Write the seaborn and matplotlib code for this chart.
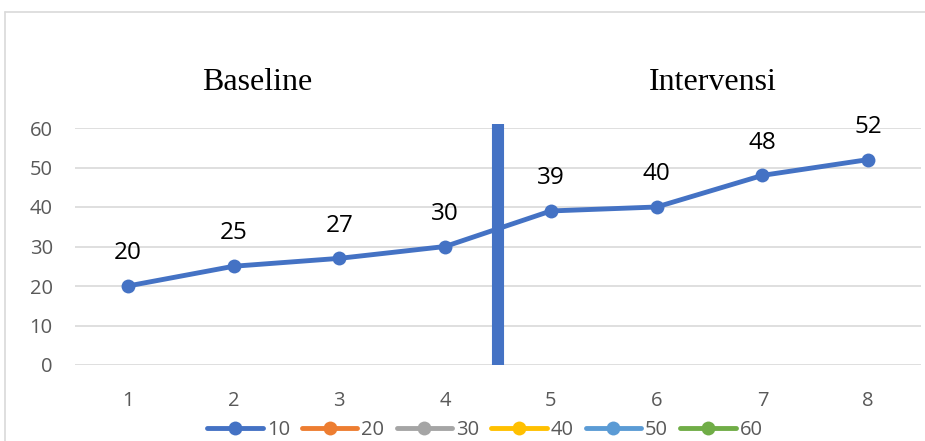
import matplotlib
matplotlib.use("Agg")
import matplotlib.pyplot as plt
from matplotlib.lines import Line2D
import seaborn as sns
import pandas as pd

sessions = [1, 2, 3, 4, 5, 6, 7, 8]
scores = [20, 25, 27, 30, 39, 40, 48, 52]
series_names = ["10", "20", "30", "40", "50", "60"]
series_colors = ["#4472C4", "#ED7D31", "#A5A5A5", "#FFC000", "#5B9BD5", "#70AD47"]
y_ticks = [0, 10, 20, 30, 40, 50, 60]
phase_labels = ["Baseline", "Intervensi"]
phase_split = 4.5
split_top = 61

sns.set_theme(style="white")
plt.rcParams["font.family"] = ["Open Sans", "DejaVu Sans"]

fig = plt.figure(figsize=(9.25, 4.41), dpi=100)
ax = fig.add_axes([75 / 925, 1 - 365 / 441, (921 - 75) / 925, (365 - 128) / 441])

df = pd.DataFrame({"session": sessions, "score": scores})
sns.lineplot(data=df, x="session", y="score", ax=ax, color=series_colors[0],
             linewidth=3.5, marker="o", markersize=10, markeredgewidth=0, zorder=4)

ax.set_xlim(0.5, 8.5)
ax.set_ylim(0, 60)
ax.set_yticks(y_ticks)
ax.set_xticks(sessions)
ax.set_xticklabels([str(s) for s in sessions])
ax.set_xlabel("")
ax.set_ylabel("")
for s in ax.spines.values():
    s.set_visible(False)
ax.grid(axis="y", color="#D9D9D9", linewidth=1.2)
ax.tick_params(axis="both", length=0, labelsize=14.5, colors="#595959")
ax.tick_params(axis="x", pad=19)
ax.tick_params(axis="y", pad=16)

# phase separator
ax.plot([phase_split, phase_split], [0, split_top], color=series_colors[0],
        linewidth=8.7, solid_capstyle="butt", clip_on=False, zorder=3)

# value labels
for x, y in zip(sessions, scores):
    ax.annotate(str(y), (x, y), xytext=(0, 15), textcoords="offset points",
                ha="center", va="bottom", fontsize=17.5, color="black")

# phase titles
ax.text(257 / 925, 1 - 82 / 441, phase_labels[0], transform=fig.transFigure,
        ha="center", va="center", fontsize=23, family="Liberation Serif", color="black")
ax.text(713 / 925, 1 - 82 / 441, phase_labels[1], transform=fig.transFigure,
        ha="center", va="center", fontsize=23, family="Liberation Serif", color="black")

# legend
handles = [Line2D([0], [0], color=c, linewidth=3.5, marker="o", markersize=10,
                  markeredgewidth=0) for c in series_colors]
fig.legend(handles, series_names, loc="center", bbox_to_anchor=(485 / 925, 1 - 430 / 441),
           ncol=6, frameon=False, fontsize=14.5, handlelength=2.75, handletextpad=0.2,
           columnspacing=0.6, labelcolor="#595959", borderaxespad=0, borderpad=0)

# chart frame
fig.add_artist(Line2D([5 / 925, 5 / 925], [0, 1 - 12 / 441], transform=fig.transFigure,
                      color="#D9D9D9", linewidth=1.2))
fig.add_artist(Line2D([5 / 925, 1.01], [1 - 12 / 441, 1 - 12 / 441], transform=fig.transFigure,
                      color="#D9D9D9", linewidth=1.2))

fig.savefig("out.png", dpi=100)
